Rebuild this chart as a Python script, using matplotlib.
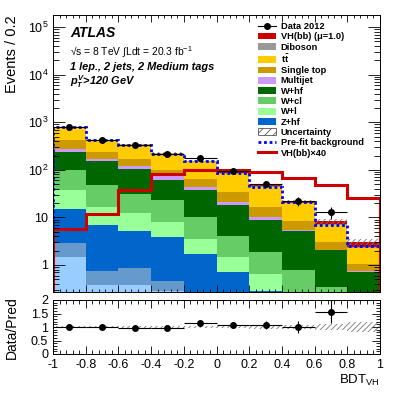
import numpy as np
import matplotlib
matplotlib.use("Agg")
import matplotlib.pyplot as plt
from matplotlib.patches import Patch
from matplotlib.lines import Line2D
from matplotlib.ticker import FixedLocator, MultipleLocator, FuncFormatter, LogLocator, NullFormatter

plt.rcParams['font.family'] = ['Liberation Sans', 'DejaVu Sans']
plt.rcParams['mathtext.fontset'] = 'custom'
plt.rcParams['mathtext.rm'] = 'Liberation Sans'
plt.rcParams['mathtext.bf'] = 'Liberation Sans:bold'
plt.rcParams['mathtext.it'] = 'Liberation Sans:bold:italic'
plt.rcParams['hatch.linewidth'] = 0.6

# BDT_VH binning
edges = np.linspace(-1, 1, 11)
centers = 0.5 * (edges[:-1] + edges[1:])

# background components (events per bin), bottom of stack first
z_l = [1.46, 0.37, 0.37, 0.28, 0.07, 0.03, 0.02, 0.01, 0.01, 0.01]
z_cl = [1.47, 0.37, 0.50, 0.17, 0.15, 0.07, 0.05, 0.02, 0.01, 0.01]
z_hf = [11.8, 6.06, 4.43, 3.38, 1.5, 0.6, 0.22, 0.05, 0.02, 0.01]
w_l = [22.3, 9.7, 7.0, 4.1, 1.84, 0.76, 0.36, 0.12, 0.08, 0.04]
w_cl = [64, 30.5, 19.3, 14.85, 6.5, 2.54, 1.2, 0.6, 0.22, 0.1]
w_hf = [141, 104, 74.4, 39.2, 28.2, 14.5, 7.0, 4.3, 1.7, 0.55]
multijet = [37, 21, 14, 12, 5.2, 2.5, 1.2, 0.25, 0.05, 0.02]
single_top = [140, 63, 52, 27, 21.5, 13, 6.4, 3.1, 0.93, 0.3]
ttbar = [371, 186, 169, 119.5, 87.5, 50, 27.8, 11.35, 3.8, 1.19]
diboson = [6, 3.5, 3, 2.5, 2, 1.5, 1.0, 0.6, 0.3, 0.15]
vh = [0.14, 0.29, 0.93, 2.05, 2.5, 2.5, 2.2, 1.65, 1.18, 0.64]

prefit = [790, 420, 340, 212, 150, 85, 43, 20.6, 6.9, 2.45]
data = [790, 430, 335, 218, 178, 94, 51, 22, 13, 0]
rel_unc = [0.03, 0.03, 0.035, 0.035, 0.05, 0.05, 0.06, 0.07, 0.12, 0.17]

layers = [
    (z_l, '#99ccff'),
    (z_cl, '#6699cc'),
    (z_hf, '#0066cc'),
    (w_l, '#99ff99'),
    (w_cl, '#66cc66'),
    (w_hf, '#006600'),
    (multijet, '#cc99ff'),
    (single_top, '#cc9900'),
    (ttbar, '#ffcc00'),
    (diboson, '#999999'),
    (vh, '#cc0000'),
]

fig = plt.figure(figsize=(4.11, 3.95), dpi=100)
ax = fig.add_axes([53 / 411, 1 - 292 / 395, 327 / 411, 277 / 395])
rax = fig.add_axes([53 / 411, 1 - 354 / 395, 327 / 411, 54 / 395])

# stacked histogram
bottom = np.zeros(len(centers))
for vals, col in layers:
    vals = np.array(vals, dtype=float)
    ax.bar(centers, vals, bottom=bottom, width=0.2, color=col, linewidth=0)
    bottom = bottom + vals
total = bottom
unc = np.array(rel_unc)

ax.bar(centers, 2 * total * unc, bottom=total * (1 - unc), width=0.2,
       fill=False, hatch='//////', edgecolor='#777777', linewidth=0)
ax.stairs(prefit, edges, color='#0000ff', linestyle=(0, (1, 1)), linewidth=2)
ax.stairs(np.array(vh) * 40, edges, color='#cc0000', linewidth=2.2)

d = np.array(data, dtype=float)
m = d > 0
ax.errorbar(centers[m], d[m], xerr=0.1, yerr=np.sqrt(d[m]), fmt='o', color='black',
            ms=4, elinewidth=0.8, capsize=0)

ax.set_yscale('log')
ax.set_xlim(-1, 1)
ax.set_ylim(0.27, 1.8e5)

def ylab(v, pos):
    if v == 1:
        return '1'
    if v == 10:
        return '10'
    return r'$10^{%d}$' % round(np.log10(v))

ax.yaxis.set_major_locator(FixedLocator([1, 10, 100, 1e3, 1e4, 1e5]))
ax.yaxis.set_major_formatter(FuncFormatter(ylab))
ax.yaxis.set_minor_locator(LogLocator(base=10, subs=np.arange(2, 10), numticks=20))
ax.yaxis.set_minor_formatter(NullFormatter())
ax.xaxis.set_major_locator(MultipleLocator(0.2))
ax.xaxis.set_minor_locator(MultipleLocator(0.04))
ax.tick_params(which='both', direction='in', top=True, right=True, width=0.6)
ax.tick_params(axis='y', which='major', length=8.5, labelsize=9)
ax.tick_params(axis='y', which='minor', length=4.5)
ax.tick_params(axis='x', which='major', length=5, labelbottom=False)
ax.tick_params(axis='x', which='minor', length=2.5)

# legend
handles = [
    Line2D([], [], color='black', marker='o', ms=4, lw=0.8),
    Patch(facecolor='#cc0000', lw=0),
    Patch(facecolor='#999999', lw=0),
    Patch(facecolor='#ffcc00', lw=0),
    Patch(facecolor='#cc9900', lw=0),
    Patch(facecolor='#cc99ff', lw=0),
    Patch(facecolor='#006600', lw=0),
    Patch(facecolor='#66cc66', lw=0),
    Patch(facecolor='#99ff99', lw=0),
    Patch(facecolor='#0066cc', lw=0),
    Patch(facecolor='white', edgecolor='#555555', hatch='////', lw=0.6),
    Line2D([], [], color='#0000ff', linestyle=(0, (1, 1)), lw=2),
    Line2D([], [], color='#cc0000', lw=2.2),
]
labels = ['Data 2012', 'VH(bb) (\u03bc=1.0)', 'Diboson', r'$\mathbf{t\bar{t}}$', 'Single top',
          'Multijet', 'W+hf', 'W+cl', 'W+l', 'Z+hf', 'Uncertainty', 'Pre-fit background',
          'VH(bb)\u00d740']
ax.legend(handles, labels, loc='upper left', bbox_to_anchor=(0.627, 0.975), frameon=False,
          prop={'size': 6.7, 'weight': 'bold'}, handlelength=1.94, handleheight=0.75,
          handletextpad=0.5, labelspacing=0.14, borderpad=0, borderaxespad=0)

fig.text(70 / 411, 1 - 33 / 395, 'ATLAS', fontsize=10, fontweight='bold', fontstyle='italic', va='center')
fig.text(70 / 411, 1 - 52 / 395, '\u221as = 8 TeV \u222bLdt = 20.3 fb$^{-1}$', fontsize=7.4, va='center')
fig.text(70 / 411, 1 - 67.5 / 395, '1 lep., 2 jets, 2 Medium tags', fontsize=7.9,
         fontweight='bold', fontstyle='italic', va='center')
fig.text(70 / 411, 1 - 82 / 395, r'$p_{T}^{V}$>120 GeV', fontsize=7.9,
         fontweight='bold', fontstyle='italic', va='center')
fig.text(12 / 411, 1 - 15 / 395, 'Events / 0.2', rotation=90, fontsize=10.5, ha='center', va='top')

# ratio panel
r = d[m] / total[m]
rax.bar(centers, 2 * unc, bottom=1 - unc, width=0.2, fill=False, hatch='//////',
        edgecolor='#777777', linewidth=0)
rax.errorbar(centers[m], r, xerr=0.1, yerr=np.sqrt(d[m]) / total[m], fmt='o', color='black',
             ms=4, elinewidth=0.8, capsize=0)
rax.set_xlim(-1, 1)
rax.set_ylim(0, 2)
rax.xaxis.set_major_locator(MultipleLocator(0.2))
rax.xaxis.set_minor_locator(MultipleLocator(0.04))
rax.xaxis.set_major_formatter(FuncFormatter(lambda v, p: '%g' % round(v, 2)))
rax.yaxis.set_major_locator(FixedLocator([0, 0.5, 1, 1.5, 2]))
rax.yaxis.set_major_formatter(FuncFormatter(lambda v, p: '%g' % v))
rax.yaxis.set_minor_locator(MultipleLocator(0.1))
rax.tick_params(which='both', direction='in', top=True, right=True, width=0.6, labelsize=9)
rax.tick_params(axis='x', which='major', length=6)
rax.tick_params(axis='x', which='minor', length=3)
rax.tick_params(axis='y', which='major', length=6)
rax.tick_params(axis='y', which='minor', length=3)

fig.text(12 / 411, 1 - 328 / 395, 'Data/Pred', rotation=90, fontsize=10, ha='center', va='center')
fig.text(380 / 411, 1 - 380 / 395, r'BDT$_{\mathrm{VH}}$', fontsize=9.5, ha='right', va='center')

for a in (ax, rax):
    for s in a.spines.values():
        s.set_linewidth(0.7)

fig.savefig('out.png', dpi=100)
